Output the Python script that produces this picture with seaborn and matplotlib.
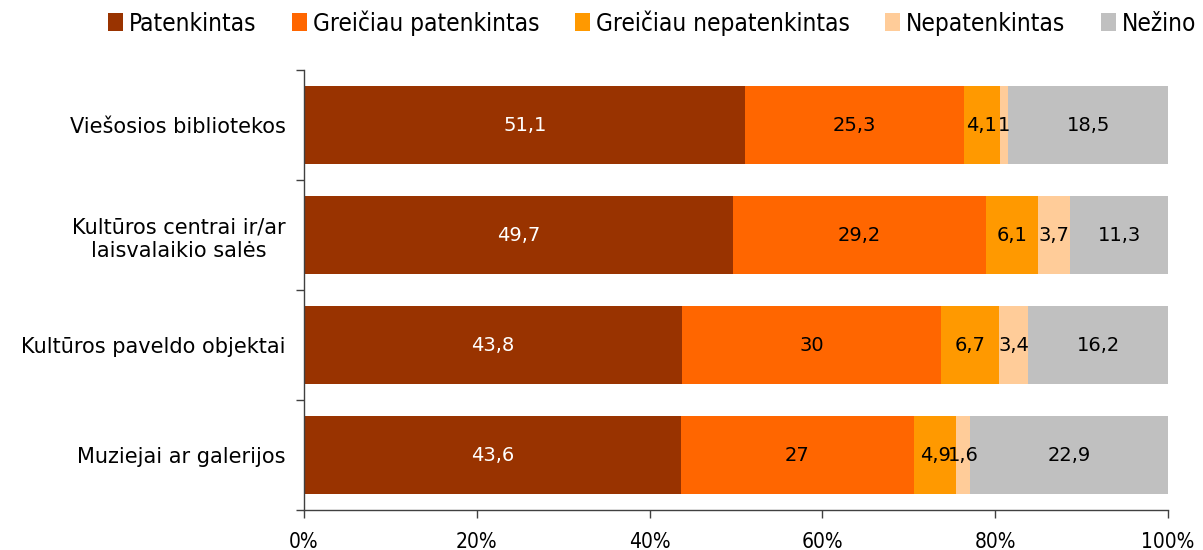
import matplotlib.pyplot as plt
import matplotlib.patches as mpatches
import matplotlib.ticker as mticker
import numpy as np
import pandas as pd
import seaborn as sns

# data (percent of respondents)
categories = ['Viešosios bibliotekos', 'Kultūros centrai ir/ar\nlaisvalaikio salės',
              'Kultūros paveldo objektai', 'Muziejai ar galerijos']
series_names = ['Patenkintas', 'Greičiau patenkintas', 'Greičiau nepatenkintas',
                'Nepatenkintas', 'Nežino']
patenkintas = [51.1, 49.7, 43.8, 43.6]
greiciau_patenkintas = [25.3, 29.2, 30, 27]
greiciau_nepatenkintas = [4.1, 6.1, 6.7, 4.9]
nepatenkintas = [1, 3.7, 3.4, 1.6]
nezino = [18.5, 11.3, 16.2, 22.9]

colors = ['#993300', '#FF6600', '#FF9900', '#FFCC99', '#C0C0C0']
label_colors = ['white', 'black', 'black', 'black', 'black']

df = pd.DataFrame({'Kategorija': categories})
for name, vals in zip(series_names, [patenkintas, greiciau_patenkintas,
                                     greiciau_nepatenkintas, nepatenkintas, nezino]):
    df[name] = vals

# 100% stacked: normalise each row
values = df[series_names].to_numpy(dtype=float)
shares = values / values.sum(axis=1, keepdims=True) * 100
cum = np.cumsum(shares, axis=1)

sns.set_theme(style='white')
plt.rcParams['font.family'] = ['DejaVu Sans']
plt.rcParams['text.color'] = 'black'
plt.rcParams['xtick.labelcolor'] = 'black'
plt.rcParams['ytick.labelcolor'] = 'black'

fig = plt.figure(figsize=(12.03, 5.5), dpi=100)
ax = fig.add_axes([0.2527, 0.0727, 0.7182, 0.80])

# draw cumulative bars from the longest to the shortest so they stack visually
for i in range(len(series_names) - 1, -1, -1):
    plot_df = pd.DataFrame({'Kategorija': categories, 'cum': cum[:, i]})
    sns.barplot(data=plot_df, x='cum', y='Kategorija', orient='h', color=colors[i],
                width=0.71, saturation=1, ax=ax, linewidth=0)

# value labels in the middle of every segment
for r in range(len(categories)):
    for i in range(len(series_names)):
        centre = cum[r, i] - shares[r, i] / 2
        txt = f"{values[r, i]:g}".replace('.', ',')
        ax.text(centre, r, txt, ha='center', va='center', fontsize=14,
                color=label_colors[i])

ax.set_xlim(0, 100)
ax.set_ylim(len(categories) - 0.5, -0.5)
ax.xaxis.set_major_locator(mticker.MultipleLocator(20))
ax.xaxis.set_major_formatter(mticker.FuncFormatter(lambda v, p: f"{v:.0f}%"))
ax.tick_params(axis='x', which='major', direction='out', length=6, width=1,
               color='#404040', labelsize=15, pad=10, bottom=True)
for lbl in ax.get_xticklabels():
    lbl.set_fontstretch('condensed')
ax.set_yticks(range(len(categories)))
ax.set_yticklabels(categories, fontsize=15, linespacing=1.25)
ax.set_yticks(np.arange(-0.5, len(categories), 1), minor=True)
ax.tick_params(axis='y', which='major', length=0, pad=13)
ax.tick_params(axis='y', which='minor', direction='out', length=6, width=1,
               color='#404040', left=True)
for lbl in ax.get_yticklabels():
    lbl.set_multialignment('center')

ax.set_xlabel('')
ax.set_ylabel('')
for side in ['top', 'right']:
    ax.spines[side].set_visible(False)
ax.spines['left'].set_color('#404040')
ax.spines['bottom'].set_color('#404040')
ax.spines['left'].set_linewidth(1)
ax.spines['bottom'].set_linewidth(1)

handles = [mpatches.Patch(facecolor=c, edgecolor='none', label=n)
           for c, n in zip(colors, series_names)]
fig.legend(handles=handles, loc='center', bbox_to_anchor=(0.542, 0.958), ncol=5,
           frameon=False, handlelength=0.62, handleheight=0.75, handletextpad=0.25,
           columnspacing=1.45, borderpad=0,
           prop={'family': 'DejaVu Sans', 'stretch': 'condensed', 'size': 17.5})

plt.savefig('out.png', dpi=100)
